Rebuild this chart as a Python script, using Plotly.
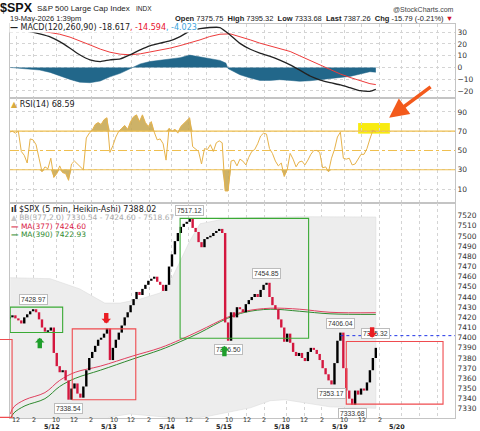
import plotly.graph_objects as go

# ---------------- data (x = 5-min bar index; session = 78 bars, 9:30-16:00, day 0 = 5/11) ----------------
BARS_PER_DAY = 78
PRICE_START_BAR = 21
PRICE_STEP = 4

ha_close = [
    7420, 7422, 7419, 7417, 7414, 7420, 7423, 7426, 7428, 7425,
    7418, 7410, 7406, 7407, 7410, 7385, 7372, 7366, 7368, 7358,
    7339, 7350, 7355, 7345, 7341, 7352, 7368, 7380, 7386, 7392,
    7398, 7400, 7404, 7409, 7378, 7390, 7398, 7405, 7412, 7420,
    7425, 7432, 7438, 7445, 7442, 7448, 7452, 7456, 7458, 7460,
    7455, 7452, 7446, 7452, 7470, 7482, 7495, 7503, 7509, 7512,
    7514, 7517, 7508, 7504, 7494, 7489, 7497, 7499, 7500, 7503,
    7505, 7507, 7503, 7415, 7397, 7425, 7420, 7430, 7428, 7425,
    7433, 7437, 7440, 7443, 7440, 7447, 7452, 7454, 7440, 7432,
    7428, 7418, 7410, 7396, 7404, 7395, 7386, 7382, 7385, 7380,
    7377, 7386, 7390, 7388, 7384, 7378, 7370, 7364, 7358, 7354,
    7375, 7397, 7405, 7370, 7348, 7340, 7334, 7348, 7344, 7350,
    7348, 7356, 7368, 7380, 7390,
]

rsi14 = [
    69, 70, 68, 70, 49, 45, 37, 62, 61, 56,
    42, 28, 33, 31, 42, 22, 26, 34, 27, 26,
    19, 36, 39, 36, 33, 30, 63, 68, 71, 77,
    79, 77, 82, 84, 48, 55, 64, 70, 73, 76,
    72, 80, 85, 87, 80, 87, 79, 75, 80, 69,
    61, 62, 57, 40, 73, 70, 72, 68, 75, 78,
    82, 84, 54, 51, 49, 36, 52, 51, 56, 49,
    58, 60, 58, 8, 8, 39, 40, 34, 41, 39,
    35, 43, 49, 51, 57, 65, 68, 67, 52, 47,
    39, 34, 37, 23, 30, 47, 41, 33, 38, 39,
    35, 40, 46, 50, 50, 48, 32, 33, 28, 42,
    51, 64, 69, 42, 41, 42, 35, 36, 41, 46,
    46, 52, 62, 71, 69,
]

macd_bars = [22, 35, 49, 62, 76, 89, 103, 116, 130, 144, 157, 171, 184, 198, 211, 225, 238, 252, 265, 279,
             292, 306, 320, 333, 347, 360, 374, 387, 401, 414, 428, 441, 455, 469, 482, 496, 509, 517]
macd_line = [34, 32.5, 30.5, 28.5, 26, 22, 16.4, 10.8, 6.5, 5, 6.5, 7.4, 10.8, 15, 18.4, 20.7, 22.6, 26.3, 31, 33,
             34, 34, 27.5, 20.5, 15.5, 12.2, 9.5, 6.2, 2.2, -2.3, -7.3, -10.5, -13, -14.8, -17.2, -19.8, -20.3, -18.617]
macd_signal = [32.5, 32, 31.5, 31, 29.7, 28.3, 25.8, 22.9, 19.2, 15.6, 13, 11.3, 10.8, 11.6, 13, 14.4, 16.4, 18.6, 20.7, 23.5,
               26.3, 28.3, 28.6, 26.3, 23.5, 20.7, 18.4, 16.4, 13.6, 9.9, 5.9, 2.3, -1.9, -5.6, -8.5, -11.3, -13.8, -14.594]
hist_bars = [22, 35, 49, 62, 76, 89, 103, 116, 130, 144, 157, 171, 184, 198, 211, 225, 238, 252, 265, 279,
             292, 306, 314, 317, 320, 333, 347, 360, 374, 387, 401, 414, 428, 441, 455, 469, 482, 496, 509, 517]
macd_hist = [0, -0.8, -1.2, -2.2, -4.2, -7.4, -10.2, -12.5, -13, -11.5, -8, -5, -1.2, 3, 5, 6, 6.7, 8.3, 10.5, 9,
             7.3, 6, 3.7, -1, -2, -6.2, -9, -11, -11, -10.4, -11, -11.8, -11.3, -10.4, -9.6, -9, -7.6, -5.6, -3.6, -4.023]

ma_bars = [22, 27, 42, 69, 89, 110, 144, 188, 225, 252, 279, 316, 340, 374, 414, 455, 517]
ma377 = [7325, 7332, 7339, 7346, 7358, 7366, 7372, 7382, 7390, 7398, 7407, 7420, 7426, 7429, 7428, 7425, 7424.6]
ma390 = [7320, 7326, 7333, 7340, 7352, 7360, 7368, 7379, 7388, 7396, 7405, 7419, 7425, 7428, 7426, 7423.5, 7422.93]

bb_up_bars = [22, 76, 116, 150, 171, 198, 225, 238, 252, 265, 279, 313, 347, 414, 517]
bb_upper = [7459, 7458, 7448, 7434, 7434, 7438, 7444, 7454, 7475, 7495, 7512, 7517, 7518, 7519, 7518.67]
bb_lo_bars = [22, 89, 143, 157, 184, 211, 231, 265, 292, 347, 374, 394, 414, 455, 517]
bb_lower = [7300, 7298, 7316, 7322, 7325, 7323, 7322, 7320, 7323, 7331, 7338, 7339, 7337, 7332, 7330.54]

label_bars = [53, 101, 265, 317, 369, 457, 469, 485, 517]
label_vals = [7428.97, 7338.54, 7517.12, 7396.50, 7454.85, 7353.17, 7406.04, 7333.68, 7395.32]
label_side = ['above', 'below', 'above', 'below', 'above', 'below', 'above', 'below', 'above']

# annotation boxes drawn on the chart
box_bar0 = [22, 106, 252, 477]
box_bar1 = [93, 192, 426, 608]
box_lo = [7405.1, 7338.9, 7399.4, 7334.6]
box_hi = [7430.1, 7408.7, 7517.4, 7396.2]
box_kind = ['green', 'red', 'green', 'red']

arrow_bars = [62, 152, 312, 512]
arrow_tips = [7400, 7414, 7392, 7400]
arrow_dirs = ['up', 'down', 'up', 'down']

last_peak_level = 7402
last_peak_bar = 469

tick_hours = [(6, '10'), (30, '12'), (54, '2')]
day_labels = ['5/12', '5/13', '5/14', '5/15', '5/18', '5/19', '5/20']

# ---------------- geometry ----------------
W, H = 480, 431
PL, PR, PT, PB = 10, 455, 24, 418
X_RANGE = [21.7, 624.2]
MACD_RANGE = [-26, 37]
RSI_RANGE = [-4.5, 104.5]
PRICE_RANGE = [7321, 7532.5]
D_MACD = [0.8122, 1.0]
D_RSI = [0.5457, 0.8122]
D_PRICE = [0.0, 0.5457]


def pxx(px):
    return (px - PL) / (PR - PL)


def pxy(py):
    return (PB - py) / (PB - PT)


def bar2paper(b):
    return (b - X_RANGE[0]) / (X_RANGE[1] - X_RANGE[0])


def price2paper(p):
    return D_PRICE[0] + (D_PRICE[1] - D_PRICE[0]) * (p - PRICE_RANGE[0]) / (PRICE_RANGE[1] - PRICE_RANGE[0])


price_px_per_unit = (D_PRICE[1] - D_PRICE[0]) * (PB - PT) / (PRICE_RANGE[1] - PRICE_RANGE[0])

price_bars = [PRICE_START_BAR + PRICE_STEP * i for i in range(len(ha_close))]
ha_open = [ha_close[0] - 1] + ha_close[:-1]

GRID = '#d4d4d4'
UP_C = '#000000'
DN_C = '#d4173f'
RSI_C = '#e6b24a'
RSI_FILL = 'rgba(196,165,78,0.85)'
RSI_LVL = '#efbf4f'
HIST_C = '#22678a'
GREEN = '#3aaa35'
RED = '#ef4b4f'
TXT = '#222222'
FONT = 'DejaVu Sans'
HFONT = 'Liberation Sans'

fig = go.Figure()

# ---- MACD panel ----
fig.add_trace(go.Scatter(x=hist_bars, y=macd_hist, mode='lines', fill='tozeroy', fillcolor=HIST_C,
                         line=dict(color=HIST_C, width=0.5), xaxis='x', yaxis='y', hoverinfo='skip'))
fig.add_trace(go.Scatter(x=macd_bars, y=macd_signal, mode='lines', line=dict(color='#ee3b3b', width=1),
                         xaxis='x', yaxis='y', hoverinfo='skip'))
fig.add_trace(go.Scatter(x=macd_bars, y=macd_line, mode='lines', line=dict(color='#222222', width=1.3, shape='spline', smoothing=0.5),
                         xaxis='x', yaxis='y', hoverinfo='skip'))

# ---- RSI panel ----
for lvl, fn in ((70, max), (30, min)):
    fig.add_trace(go.Scatter(x=price_bars, y=[lvl] * len(rsi14), mode='lines', line=dict(width=0),
                             xaxis='x2', yaxis='y2', hoverinfo='skip'))
    fig.add_trace(go.Scatter(x=price_bars, y=[fn(v, lvl) for v in rsi14], mode='lines', line=dict(width=0),
                             fill='tonexty', fillcolor=RSI_FILL, xaxis='x2', yaxis='y2', hoverinfo='skip'))
for lvl, dash in ((70, 'solid'), (50, 'dashdot'), (30, 'solid')):
    fig.add_trace(go.Scatter(x=X_RANGE, y=[lvl, lvl], mode='lines', line=dict(color=RSI_LVL, width=1.2, dash=dash),
                             xaxis='x2', yaxis='y2', hoverinfo='skip'))
fig.add_trace(go.Scatter(x=price_bars, y=rsi14, mode='lines', line=dict(color=RSI_C, width=1),
                         xaxis='x2', yaxis='y2', hoverinfo='skip'))

# ---- Price panel ----
fig.add_trace(go.Scatter(x=bb_up_bars + bb_lo_bars[::-1], y=bb_upper + bb_lower[::-1], mode='lines',
                         fill='toself', fillcolor='#ededed', line=dict(color='#dcdcdc', width=0.6),
                         xaxis='x3', yaxis='y3', hoverinfo='skip'))
fig.add_trace(go.Scatter(x=ma_bars, y=ma390, mode='lines', line=dict(color='#2f8a2f', width=1, shape='spline'),
                         xaxis='x3', yaxis='y3', hoverinfo='skip'))
fig.add_trace(go.Scatter(x=ma_bars, y=ma377, mode='lines', line=dict(color='#e0405f', width=1, shape='spline'),
                         xaxis='x3', yaxis='y3', hoverinfo='skip'))

# Heikin-Ashi bodies as vertical segments (kept in the scatter layer so they sit above the band fill)
min_body = 1.6 / price_px_per_unit
seg = {'up': ([], []), 'dn': ([], [])}
for b, o, c in zip(price_bars, ha_open, ha_close):
    key = 'up' if c >= o else 'dn'
    lo, hi = min(o, c), max(o, c)
    if hi - lo < min_body:
        mid = (hi + lo) / 2
        lo, hi = mid - min_body / 2, mid + min_body / 2
    seg[key][0].extend([b, b, None])
    seg[key][1].extend([lo, hi, None])
for key, col in (('dn', DN_C), ('up', UP_C)):
    fig.add_trace(go.Scatter(x=seg[key][0], y=seg[key][1], mode='lines', line=dict(color=col, width=2.4),
                             xaxis='x3', yaxis='y3', hoverinfo='skip', connectgaps=False))

fig.add_trace(go.Scatter(x=[last_peak_bar, X_RANGE[1]], y=[last_peak_level] * 2, mode='lines',
                         line=dict(color='#2035e8', width=1, dash='dot'), xaxis='x3', yaxis='y3', hoverinfo='skip'))

shapes = []
for b0, b1, lo, hi, k in zip(box_bar0, box_bar1, box_lo, box_hi, box_kind):
    shapes.append(dict(type='rect', xref='x3', yref='y3', x0=b0, x1=b1, y0=lo, y1=hi,
                       line=dict(color=GREEN if k == 'green' else RED, width=1.1), layer='above'))
# red box continuing from off-chart on the left
shapes.append(dict(type='rect', xref='paper', yref='paper', x0=pxx(-5), x1=bar2paper(24.5),
                   y0=price2paper(7321.6), y1=price2paper(7398.2), line=dict(color=RED, width=1.1)))
# yellow highlight on RSI
shapes.append(dict(type='rect', xref='x2', yref='y2', x0=493, x1=536, y0=67.5, y1=78.5,
                   fillcolor='#f8eb10', line=dict(width=0), layer='below'))

annotations = []


def txt(text, x, y, size=7.5, color=TXT, xanchor='left', family=FONT, **kw):
    annotations.append(dict(text=text, x=pxx(x), y=pxy(y), xref='paper', yref='paper', xanchor=xanchor,
                            yanchor='middle', showarrow=False, font=dict(size=size, color=color, family=family), **kw))


# header
txt('<b>$SPX</b>', -2, 8, size=12.5, color='#111', family=HFONT)
txt('S&P 500 Large Cap Index', 35, 8.5, size=8, family=HFONT)
txt('INDX', 134, 8.5, size=6.5, family=HFONT)
txt('@StockCharts.com', 456, 9.5, size=7, color='#444', xanchor='right', family=HFONT)
txt('19-May-2026 1:39pm', 8, 18, size=7.5, family=HFONT)
txt("<b>Open</b> 7375.75  <b>High</b> 7395.32  <b>Low</b> 7333.68  <b>Last</b> 7387.26  "
    "<b>Chg</b> -15.79 (-0.21%) <span style='color:#d0102a'>▼</span>", 455, 18, size=7.5,
    xanchor='right', family=HFONT)

# panel legends
txt("<b>—</b> MACD(120,260,90) -18.617<span style='color:#e8112d'>, -14.594</span>"
    "<span style='color:#3aa3dc'>, -4.023</span>", 9, 27.5, size=8, bgcolor='white', borderpad=0)
txt("<span style='color:#d8aa40'>▲</span> RSI(14) 68.59", 9, 104, size=8)
txt("<b>ıl</b> $SPX (5 min, Heikin-Ashi) 7388.02", 9, 209, size=8)
txt("<span style='color:#c8c8c8'>▲</span> BB(377,2.0) 7330.54 - 7424.60 - 7518.67", 9, 217.5, size=7.5, color='#aaaaaa')
txt("<b>—</b> MA(377) 7424.60", 9, 226, size=7.5, color='#d8173f')
txt("<b>—</b> MA(390) 7422.93", 9, 234.3, size=7.5, color='#2f8a2f')

# price labels
for b, v, s in zip(label_bars, label_vals, label_side):
    annotations.append(dict(text=f'{v:.2f}', x=b, y=v, xref='x3', yref='y3', showarrow=False,
                            yanchor='bottom' if s == 'above' else 'top', yshift=3 if s == 'above' else -3,
                            font=dict(size=6.8, color='#333', family=HFONT), bgcolor='white',
                            bordercolor='#bcbcbc', borderwidth=1, borderpad=1))

# block arrows (drawn after the labels so they sit on top, as in the original)
for b, t, d in zip(arrow_bars, arrow_tips, arrow_dirs):
    col = '#1e9e2a' if d == 'up' else '#ea1c22'
    annotations.append(dict(x=b, y=t, xref='x3', yref='y3', ax=0, ay=12 if d == 'up' else -12,
                            showarrow=True, arrowhead=1, arrowsize=0.36, arrowwidth=4.4, arrowcolor=col, text=''))

# x tick labels and date labels
tickvals, ticktext = [], []
for d in range(len(day_labels) + 1):
    for off, lab in tick_hours:
        v = d * BARS_PER_DAY + off
        if X_RANGE[0] <= v <= X_RANGE[1]:
            tickvals.append(v)
            ticktext.append(lab if d < len(day_labels) else '')
for v, lab in zip(tickvals, ticktext):
    if lab:
        annotations.append(dict(text=lab, x=v, y=pxy(419.8), xref='x3', yref='paper', yanchor='middle',
                                showarrow=False, borderpad=0, font=dict(size=6.4, color='#333', family=FONT)))
for d, lab in enumerate(day_labels, start=1):
    annotations.append(dict(text=f'<b>{lab}</b>', x=d * BARS_PER_DAY, y=pxy(427.2), xref='x3', yref='paper',
                            yanchor='middle', showarrow=False, borderpad=0,
                            font=dict(size=6.4, color='#222', family=FONT)))

# orange callout arrow
annotations.append(dict(x=535, y=84, xref='x2', yref='y2', ax=43, ay=-32, showarrow=True,
                        arrowcolor='#f35a1c', arrowwidth=3.5, arrowhead=2, arrowsize=1.1, text=''))

xcommon = dict(range=X_RANGE, tickvals=tickvals, showgrid=True, gridcolor=GRID, griddash='dot', gridwidth=1,
               showline=True, mirror=True, linecolor='#c4c4c4', linewidth=1, zeroline=False, ticks='',
               automargin=False, showticklabels=False)
ycommon = dict(side='right', showline=True, mirror=True, linecolor='#c4c4c4', linewidth=1, zeroline=False,
               ticks='', tickfont=dict(size=7.5, color='#333', family=FONT), gridcolor=GRID, griddash='dot',
               automargin=False)

fig.update_layout(
    width=W, height=H, margin=dict(l=PL, r=W - PR, t=PT, b=H - PB, autoexpand=False),
    paper_bgcolor='white', plot_bgcolor='white', showlegend=False,
    xaxis=dict(domain=[0, 1], anchor='y', matches='x3', **xcommon),
    xaxis2=dict(domain=[0, 1], anchor='y2', matches='x3', **xcommon),
    xaxis3=dict(domain=[0, 1], anchor='y3', **xcommon),
    yaxis=dict(domain=D_MACD, anchor='x', range=MACD_RANGE, tickvals=[-20, -10, 0, 10, 20, 30], showgrid=True, **ycommon),
    yaxis2=dict(domain=D_RSI, anchor='x2', range=RSI_RANGE, tickvals=[10, 30, 50, 70, 90], showgrid=True, **ycommon),
    yaxis3=dict(domain=D_PRICE, anchor='x3', range=PRICE_RANGE, tickvals=list(range(7330, 7521, 10)),
                showgrid=False, **ycommon),
    shapes=shapes, annotations=annotations,
)

fig.write_html('out.html')
